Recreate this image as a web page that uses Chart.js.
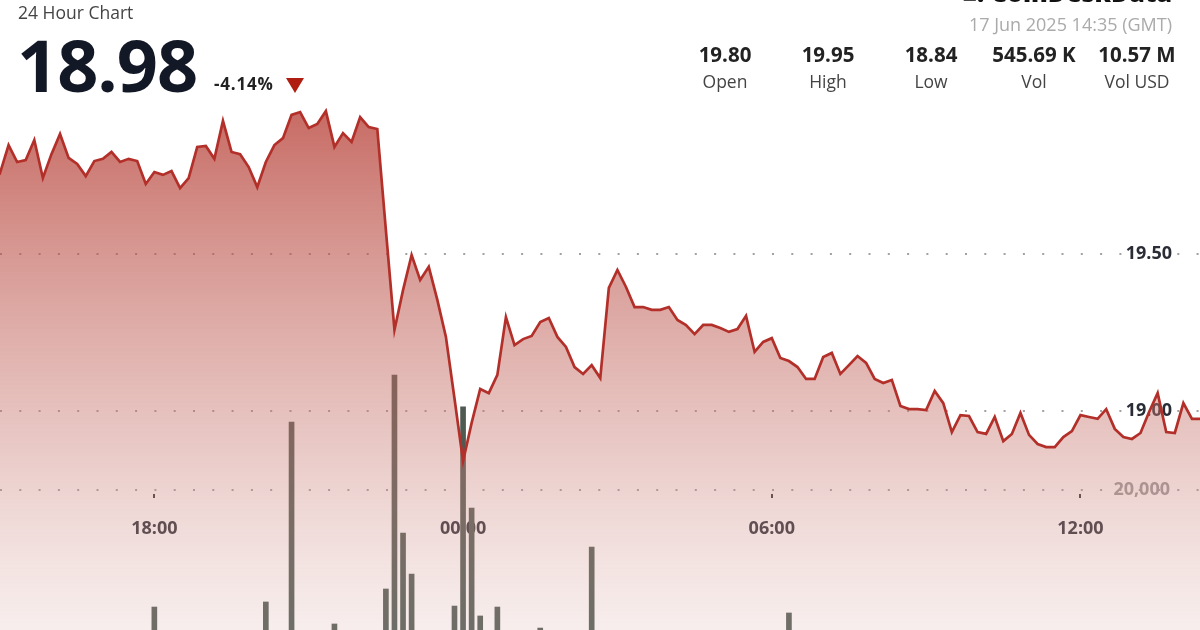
<!DOCTYPE html>
<html>
<head>
<meta charset="utf-8">
<script src="https://cdn.jsdelivr.net/npm/chart.js@4.4.0/dist/chart.umd.min.js"></script>
<style>
  html { margin: 0; padding: 0; background: #fff; overflow: hidden; }
  body { margin: 0; padding: 0; width: 1200px; height: 710px; position: relative; font-family: 'Open Sans', sans-serif; }
  #wrap { position: absolute; left: 0; top: 0; width: 1200px; height: 710px; }
  #chart { width: 1200px; height: 710px; display: block; }
  .abs { position: absolute; white-space: nowrap; }
  .title { left: 18px; top: 0px; font-size: 17.5px; color: #444; }
  .price { left: 17px; top: 15px; font-size: 72px; font-weight: 700; color: #121826; letter-spacing: -1px; }
  .change { left: 214px; top: 72px; font-size: 17px; font-weight: 700; color: #222; letter-spacing: 0.8px; }
  .tri { left: 286px; top: 78px; width: 0; height: 0; border-left: 9px solid transparent; border-right: 9px solid transparent; border-top: 15px solid #b01e12; }
  .logo { right: 28px; top: -25px; font-size: 25px; font-weight: 800; color: #111; }
  .date { right: 28px; top: 12px; font-size: 18px; color: #aaa; }
  .stat { width: 130px; text-align: center; }
  .stat .v { font-size: 20.5px; font-weight: 700; color: #222; line-height: 26px; }
  .stat .l { font-size: 17.5px; color: #444; line-height: 28px; }
</style>
</head>
<body>
<div id="wrap"><canvas id="chart" width="1200" height="710"></canvas></div>

<div class="abs title">24 Hour Chart</div>
<div class="abs price">18.98</div>
<div class="abs change">-4.14%</div>
<div class="abs tri"></div>
<div class="abs logo">&#9632;: CoinDeskData</div>
<div class="abs date">17 Jun 2025 14:35 (GMT)</div>
<div id="stats"></div>

<script>
// 10-minute samples, first one at 14:40 of the previous day (hours relative to 00:00)
const startHour = -28 / 3;
const stepHours = 1 / 6;

const prices = [
  19.80, 19.78, 19.758, 19.847, 19.793, 19.799, 19.863, 19.742, 19.818, 19.882,
  19.806, 19.787, 19.748, 19.796, 19.803, 19.825, 19.793, 19.803, 19.796, 19.723,
  19.761, 19.752, 19.764, 19.710, 19.742, 19.841, 19.844, 19.803, 19.924, 19.825,
  19.818, 19.777, 19.713, 19.793, 19.847, 19.869, 19.943, 19.952, 19.901, 19.914,
  19.955, 19.841, 19.885, 19.857, 19.936, 19.904, 19.898, 19.576, 19.258, 19.385,
  19.497, 19.417, 19.459, 19.354, 19.236, 19.040, 18.840, 18.962, 19.070, 19.057,
  19.115, 19.299, 19.210, 19.229, 19.239, 19.283, 19.296, 19.236, 19.204, 19.140,
  19.118, 19.146, 19.105, 19.392, 19.449, 19.395, 19.331, 19.331, 19.322, 19.322,
  19.331, 19.290, 19.274, 19.245, 19.274, 19.274, 19.264, 19.252, 19.261, 19.303,
  19.188, 19.220, 19.232, 19.169, 19.159, 19.140, 19.102, 19.102, 19.172, 19.185,
  19.118, 19.146, 19.175, 19.153, 19.102, 19.089, 19.099, 19.016, 19.006, 19.006,
  19.003, 19.064, 19.025, 18.933, 18.987, 18.984, 18.933, 18.927, 18.981, 18.904,
  18.927, 18.994, 18.924, 18.895, 18.885, 18.885, 18.917, 18.936, 18.987, 18.981,
  18.975, 19.006, 18.943, 18.917, 18.911, 18.930, 18.997, 19.057, 18.933, 18.930,
  19.025, 18.975, 18.975, 18.980
];

const volumes = [
  2100, 1800, 3200, 1500, 2600, 1200, 4100, 2300, 1900, 3400,
  2800, 1600, 2200, 3900, 1400, 2500, 1700, 3100, 2000, 2700,
  9360, 1800, 2400, 3300, 1500, 4600, 2100, 3700, 5200, 2900,
  2300, 3600, 4800, 9820, 2600, 3100, 26180, 4200, 3500, 2800,
  5100, 7820, 3900, 4400, 6200, 3300, 5600, 11000, 30450, 16090,
  12360, 6400, 4700, 5900, 6800, 9450, 27550, 18360, 8550, 5200,
  9360, 4300, 3800, 5100, 4900, 7450, 3600, 2900, 4100, 3300,
  2700, 14820, 5800, 4600, 3900, 2400, 3100, 2200, 1900, 2600,
  1700, 2300, 3000, 1500, 2100, 1800, 2800, 1300, 2400, 3500,
  4200, 2600, 1900, 2200, 8820, 3000, 2500, 1600, 2900, 2000,
  1400, 2300, 1800, 2700, 3100, 2000, 1500, 3800, 2400, 1700,
  1900, 2600, 3300, 2100, 1600, 2400, 2800, 1800, 2200, 3500,
  2000, 2900, 1700, 1400, 1900, 2500, 1600, 3000, 2300, 1800,
  2100, 2700, 1500, 2000, 1800, 2600, 3400, 4100, 2900, 2200,
  3600, 2400, 1900, 2800
];

const tickHours = [-6, 0, 6, 12];
const tickLabels = ['18:00', '00:00', '06:00', '12:00'];
const priceTicks = [19.0, 19.5];
const volumeTicks = [20000];

const statValues = ['19.80', '19.95', '18.84', '545.69 K', '10.57 M'];
const statLabels = ['Open', 'High', 'Low', 'Vol', 'Vol USD'];
const statCenters = [725, 828, 931, 1034, 1137];

// header stats
const statsEl = document.getElementById('stats');
statValues.forEach((v, i) => {
  const d = document.createElement('div');
  d.className = 'abs stat';
  d.style.left = (statCenters[i] - 65) + 'px';
  d.style.top = '41px';
  d.innerHTML = '<div class="v">' + v + '</div><div class="l">' + statLabels[i] + '</div>';
  statsEl.appendChild(d);
});

const hours = prices.map((_, i) => startHour + i * stepHours);
const priceData = prices.map((p, i) => ({ x: hours[i], y: p }));
const volData = volumes.map((v, i) => ({ x: hours[i], y: v }));

function areaFill(context) {
  const { ctx, chartArea } = context.chart;
  if (!chartArea) return 'rgba(176,45,35,0.4)';
  const g = ctx.createLinearGradient(0, 100, 0, chartArea.bottom);
  g.addColorStop(0, 'rgba(176,45,35,0.72)');
  g.addColorStop(0.55, 'rgba(200,120,112,0.42)');
  g.addColorStop(1, 'rgba(228,200,196,0.14)');
  return g;
}

const dotted = { display: false, dash: [2, 17.3] };

new Chart(document.getElementById('chart').getContext('2d'), {
  type: 'bar',
  data: {
    datasets: [{
      type: 'line',
      data: priceData,
      yAxisID: 'y',
      borderColor: '#b3302a',
      borderWidth: 2.7,
      pointRadius: 0,
      tension: 0,
      fill: 'start',
      backgroundColor: areaFill,
      order: 1
    }, {
      type: 'bar',
      data: volData,
      yAxisID: 'yVol',
      backgroundColor: 'rgb(78,90,82)',
      barThickness: 5,
      order: 2
    }]
  },
  options: {
    responsive: false,
    animation: false,
    devicePixelRatio: 1,
    layout: { padding: 0 },
    plugins: { legend: { display: false }, tooltip: { enabled: false } },
    scales: {
      x: {
        type: 'linear',
        min: -9,
        max: 14.323,
        offset: false,
        position: { y: 18.7357 },
        z: 1,
        afterBuildTicks: s => { s.ticks = tickHours.map(v => ({ value: v })); },
        afterFit: s => { s.height = 0; },
        ticks: {
          callback: v => tickLabels[tickHours.indexOf(v)],
          font: { family: 'Open Sans', size: 18, weight: 'bold' },
          color: '#2a2d36',
          padding: 20,
          maxRotation: 0,
          autoSkip: false
        },
        grid: { offset: false, drawOnChartArea: false, drawTicks: true, tickLength: 4, color: '#333', lineWidth: 2 },
        border: { display: false }
      },
      y: {
        position: 'right',
        min: 18.0478,
        max: 20.3089,
        z: 1,
        afterBuildTicks: s => { s.ticks = priceTicks.map(v => ({ value: v })); },
        afterFit: s => { s.width = 0; },
        ticks: {
          mirror: true,
          padding: -28,
          callback: v => v.toFixed(2),
          font: { family: 'Open Sans', size: 18, weight: 'bold' },
          color: '#2a2d36'
        },
        grid: { color: 'rgba(130,130,130,0.75)', lineWidth: 2, drawTicks: false },
        border: dotted
      },
      yVol: {
        position: 'right',
        min: 0,
        max: 64545,
        z: 1,
        afterBuildTicks: s => { s.ticks = volumeTicks.map(v => ({ value: v })); },
        afterFit: s => { s.width = 0; },
        ticks: {
          mirror: true,
          padding: -30,
          callback: v => v.toLocaleString('en-US'),
          font: { family: 'Open Sans', size: 18, weight: 'bold' },
          color: '#9a9a9a'
        },
        grid: { color: 'rgba(130,130,130,0.75)', lineWidth: 2, drawTicks: false },
        border: dotted
      }
    }
  }
});
</script>
</body>
</html>
